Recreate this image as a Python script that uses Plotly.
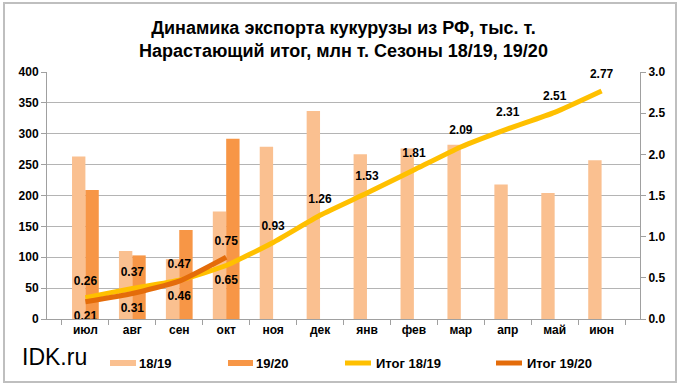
import plotly.graph_objects as go

months = ["июл", "авг", "сен", "окт", "ноя", "дек", "янв", "фев", "мар", "апр", "май", "июн"]
exp_1819 = [263, 110, 97, 174, 279, 337, 267, 276, 282, 218, 204, 257]
exp_1920 = [209, 103, 144, 292, None, None, None, None, None, None, None, None]
cum_1819 = [0.26, 0.37, 0.47, 0.65, 0.93, 1.26, 1.53, 1.81, 2.09, 2.31, 2.51, 2.77]
cum_1920 = [0.21, 0.31, 0.46, 0.75]
pos_1819 = ["top center"] * 3 + ["bottom center"] + ["top center"] * 8
pos_1920 = ["bottom center"] * 3 + ["top center"]

C_1819 = "#FAC090"
C_1920 = "#F79646"
C_L1819 = "#FFC000"
C_L1920 = "#E46C0A"

W, H = 682, 389
L, R, T, B = 47, 42, 72, 70
pw, ph = W - L - R, H - T - B


def px(x):
    return (x - L) / pw


def py(y):
    return (H - B - y) / ph


FAM = "Liberation Sans, Arial"
bold12 = dict(family=FAM, size=12, color="#000000", weight="bold")

fig = go.Figure()
fig.add_trace(go.Bar(x=months, y=exp_1819, name="18/19", marker_color=C_1819,
                     marker_line_width=0, showlegend=False))
fig.add_trace(go.Bar(x=months, y=exp_1920, name="19/20", marker_color=C_1920,
                     marker_line_width=0, showlegend=False))
fig.add_trace(go.Scatter(x=months, y=cum_1819, name="Итог 18/19", yaxis="y2",
                         mode="lines+markers+text",
                         line=dict(color=C_L1819, width=5, shape="spline", smoothing=0.5),
                         marker=dict(size=14, color="rgba(0,0,0,0)"),
                         text=[f"{v:.2f}" for v in cum_1819], textposition=pos_1819,
                         textfont=bold12, showlegend=False, cliponaxis=False))
fig.add_trace(go.Scatter(x=months[:4], y=cum_1920, name="Итог 19/20", yaxis="y2",
                         mode="lines+markers+text",
                         line=dict(color=C_L1920, width=5, shape="spline", smoothing=0.5),
                         marker=dict(size=14, color="rgba(0,0,0,0)"),
                         text=[f"{v:.2f}" for v in cum_1920], textposition=pos_1920,
                         textfont=bold12, showlegend=False, cliponaxis=False))

fig.update_layout(
    width=W, height=H,
    margin=dict(l=L, r=R, t=T, b=B, autoexpand=False),
    paper_bgcolor="white", plot_bgcolor="white",
    barmode="group", bargap=0.43, bargroupgap=0,
    font=dict(family=FAM, size=12, color="#000000"),
    title=dict(text="<b>Динамика экспорта кукурузы из РФ, тыс. т.<br>Нарастающий итог, млн т. Сезоны 18/19, 19/20</b>",
               x=0.5, xanchor="center", xref="paper", y=1 - 33.5 / H, yanchor="middle",
               font=dict(family=FAM, size=18, color="#000000")),
    xaxis=dict(showgrid=False, showline=True, linecolor="#A0A0A0", linewidth=1,
               ticks="outside", tickcolor="#A0A0A0", ticklen=5, tickson="boundaries",
               tickfont=bold12),
    yaxis=dict(range=[0, 400], dtick=50, showgrid=True, gridcolor="#B4B4B4", gridwidth=1,
               showline=True, linecolor="#A0A0A0", ticks="outside", tickcolor="#A0A0A0",
               ticklen=5, zeroline=False, tickfont=bold12),
    yaxis2=dict(range=[0, 3], dtick=0.5, tickformat=".1f", overlaying="y", side="right",
                showgrid=False, showline=True, linecolor="#A0A0A0", ticks="outside",
                tickcolor="#A0A0A0", ticklen=5, zeroline=False, tickfont=bold12),
    showlegend=False,
)

# IDK.ru mark
fig.add_annotation(text="IDK.ru", xref="paper", yref="paper", x=px(20), y=py(357),
                   xanchor="left", yanchor="middle", showarrow=False,
                   font=dict(family=FAM, size=23, color="#000000"))

# custom legend
leg_y = 363
legend_items = [
    ("rect", C_1819, 110, 136, "18/19"),
    ("rect", C_1920, 228, 253, "19/20"),
    ("line", C_L1819, 343, 373, "Итог 18/19"),
    ("line", C_L1920, 494, 524, "Итог 19/20"),
]
for kind, col, x0, x1, label in legend_items:
    if kind == "rect":
        fig.add_shape(type="rect", xref="paper", yref="paper",
                      x0=px(x0), x1=px(x1), y0=py(leg_y + 3), y1=py(leg_y - 3),
                      line=dict(width=0), fillcolor=col)
    else:
        fig.add_shape(type="line", xref="paper", yref="paper",
                      x0=px(x0 + 2), x1=px(x1 - 2), y0=py(leg_y), y1=py(leg_y),
                      line=dict(color=col, width=5))
    fig.add_annotation(text=label, xref="paper", yref="paper", x=px(x1 + 1), y=py(leg_y),
                       xanchor="left", yanchor="middle", showarrow=False,
                       font=dict(family=FAM, size=13, color="#000000", weight="bold"))

fig.add_shape(type="rect", xref="paper", yref="paper",
              x0=px(4), x1=px(676), y0=py(382), y1=py(3),
              line=dict(color="#BFBFBF", width=2), fillcolor="rgba(0,0,0,0)", layer="below")

fig.write_html("out.html", config={"displayModeBar": False},
               post_script="document.body.style.margin='0';document.body.style.overflow='hidden';")
